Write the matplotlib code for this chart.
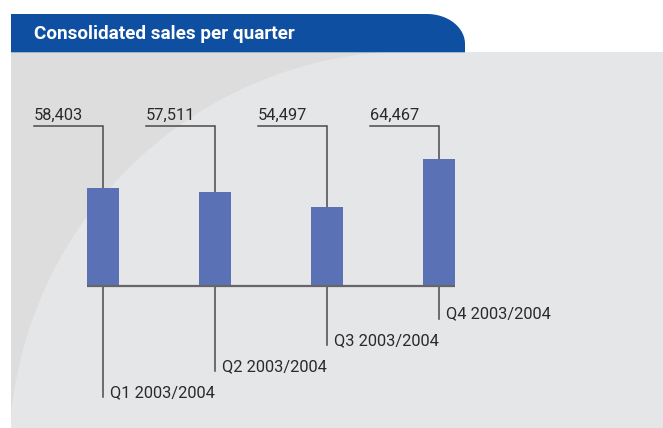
import matplotlib
matplotlib.use("Agg")
import matplotlib.pyplot as plt
import numpy as np
from matplotlib.patches import Rectangle, Circle, PathPatch
from matplotlib.path import Path

# Chart content
title = "Consolidated sales per quarter"
quarters = ["Q1 2003/2004", "Q2 2003/2004", "Q3 2003/2004", "Q4 2003/2004"]
sales = [58403, 57511, 54497, 64467]
value_labels = ["58,403", "57,511", "54,497", "64,467"]

W, H = 663, 428
fig = plt.figure(figsize=(W / 100, H / 100), dpi=100)
fig.patch.set_facecolor("white")

# Background layer in pixel coordinates (y grows downward)
bg = fig.add_axes([0, 0, 1, 1])
bg.set_xlim(0, W)
bg.set_ylim(H, 0)
bg.axis("off")

BLUE = "#0e4fa1"
DARK = "#dddddd"
LIGHT = "#e5e6e8"

# Grey panel with a large light swoosh
panel = Rectangle((11, 52.3), W - 11, H - 52.3, facecolor=DARK, edgecolor="none", zorder=1)
bg.add_patch(panel)
swoosh = Circle((413, 455), 404, facecolor=LIGHT, edgecolor="none", zorder=2)
bg.add_patch(swoosh)
swoosh.set_clip_path(panel)
right_fill = Rectangle((413, 52.3), W - 413, H - 52.3, facecolor=LIGHT, edgecolor="none", zorder=2)
bg.add_patch(right_fill)

# Header tab with rounded top-right corner
x0, x1, y0, y1 = 11, 465, 14, 52.3
rx, ry = 38, 30
t = np.linspace(-np.pi / 2, 0, 30)
arc_x = (x1 - rx) + rx * np.cos(t)
arc_y = (y0 + ry) + ry * np.sin(t)
verts = [(x0, y1), (x0, y0)] + list(zip(arc_x, arc_y)) + [(x1, y1), (x0, y1)]
codes = [Path.MOVETO] + [Path.LINETO] * (len(verts) - 2) + [Path.CLOSEPOLY]
bg.add_patch(PathPatch(Path(verts, codes), facecolor=BLUE, edgecolor="none", zorder=3))
bg.text(34, 34, title, color="white", fontsize=13.6, fontweight="bold",
        family=["Roboto", "DejaVu Sans"], va="center", ha="left", zorder=4)

# Chart axes: x in category slots, y in sales units
ax = fig.add_axes([0, 0, 1, 1], facecolor="none")
ax.axis("off")
SLOT_PX = 112.0
FIRST_PX = 103.0
BASE = 38030.0          # value sitting on the baseline
BASE_PY = 286.0         # baseline position, pixels from top
PX_PER_UNIT = 0.004821
ax.set_xlim(-FIRST_PX / SLOT_PX, (W - FIRST_PX) / SLOT_PX)
ax.set_ylim(BASE - (H - BASE_PY) / PX_PER_UNIT, BASE + BASE_PY / PX_PER_UNIT)


def py_to_val(py):
    return BASE + (BASE_PY - py) / PX_PER_UNIT


def px_to_dx(px):
    return px / SLOT_PX


x = np.arange(len(sales))
heights = [v - BASE for v in sales]
ax.bar(x, heights, bottom=BASE, width=32 / SLOT_PX, color="#5a72b5", zorder=3)

# Baseline
ax.plot([x[0] - px_to_dx(16), x[-1] + px_to_dx(16)], [BASE, BASE],
        color="#666666", lw=1.6, zorder=4, solid_capstyle="butt")

LINE = "#4a4a4a"
TXT = "#2a2a2a"
font = dict(family=["Roboto", "DejaVu Sans"], fontsize=11.8, color=TXT)

top_py = 125.7
bottom_py = [397, 371, 345, 318.5]
for i, (v, lab, q) in enumerate(zip(sales, value_labels, quarters)):
    yt = py_to_val(top_py)
    # value leader: from bar top up, then left under the value label
    ax.plot([x[i], x[i], x[i] - px_to_dx(69)], [v, yt, yt], color=LINE, lw=1.1,
            zorder=2, solid_joinstyle="miter")
    ax.text(x[i] - px_to_dx(69), py_to_val(top_py - 6), lab, ha="left",
            va="baseline", **font)
    # category leader: from baseline down to the quarter label
    yb = py_to_val(bottom_py[i])
    ax.plot([x[i], x[i]], [BASE, yb], color=LINE, lw=1.1, zorder=2)
    ax.text(x[i] + px_to_dx(7.5), yb, q, ha="left", va="baseline", **font)

fig.savefig("out.png", dpi=100)
